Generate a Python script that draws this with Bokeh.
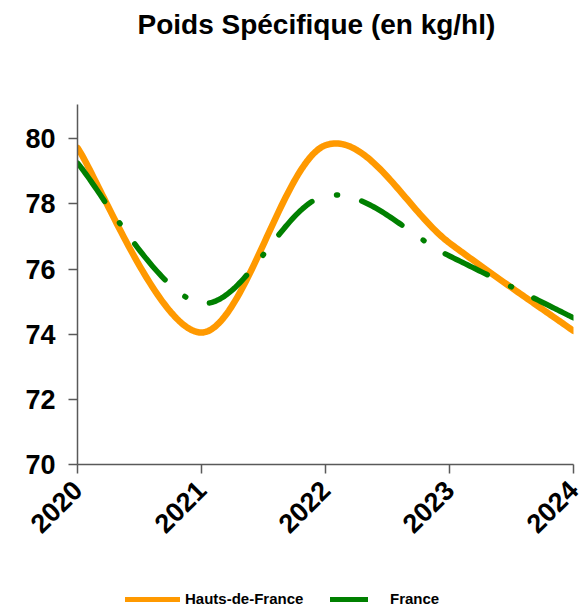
import numpy as np
from bokeh.plotting import figure
from bokeh.layouts import column
from bokeh.models import Range1d, FixedTicker, Legend, LegendItem, Title
from bokeh.embed import file_html
from bokeh.resources import INLINE

years = [2020, 2021, 2022, 2023, 2024]
hauts_de_france = [79.72, 74.05, 79.8, 76.8, 74.1]
france = [79.25, 74.95, 78.25, 76.4, 74.5]
y_ticks = [70, 72, 74, 76, 78, 80]
title_text = "Poids Spécifique (en kg/hl)"
series_names = ["Hauts-de-France", "France"]
colors = ["#FF9900", "#008000"]


def smooth(xs, ys, n=60):
    P = np.column_stack([np.asarray(xs, float), np.asarray(ys, float)])
    ext = np.vstack([P[0], P, P[-1]])
    out = []
    t = np.linspace(0, 1, n)[:, None]
    for i in range(len(P) - 1):
        p0 = ext[i + 1]
        p3 = ext[i + 2]
        c1 = p0 + (ext[i + 2] - ext[i]) / 6.0
        c2 = p3 - (ext[i + 3] - ext[i + 1]) / 6.0
        seg = ((1 - t) ** 3) * p0 + 3 * ((1 - t) ** 2) * t * c1 + 3 * (1 - t) * t ** 2 * c2 + t ** 3 * p3
        out.append(seg if i == 0 else seg[1:])
    s = np.vstack(out)
    return s[:, 0], s[:, 1]


p = figure(width=583, height=575, output_backend="svg", toolbar_location=None,
           x_range=Range1d(2020, 2024), y_range=Range1d(70, 81.05),
           min_border_left=77, min_border_right=10, min_border_top=0, min_border_bottom=111)
p.outline_line_color = None
p.xgrid.visible = False
p.ygrid.visible = False
p.background_fill_color = "white"
p.border_fill_color = "white"

for ax in (p.xaxis[0], p.yaxis[0]):
    ax.axis_line_color = "#595959"
    ax.axis_line_width = 1.5
    ax.major_tick_line_color = "#595959"
    ax.major_tick_line_width = 1.5
    ax.major_tick_out = 9
    ax.major_tick_in = 0
    ax.minor_tick_line_color = None
    ax.major_label_text_font = "Liberation Sans"
    ax.major_label_text_font_style = "bold"
    ax.major_label_text_font_size = "27px"
    ax.major_label_text_color = "black"

p.xaxis.ticker = FixedTicker(ticks=years)
p.xaxis.major_label_orientation = np.pi / 4
p.xaxis.major_label_standoff = 12
p.yaxis.ticker = FixedTicker(ticks=y_ticks)
p.yaxis.major_label_standoff = 13

hx, hy = smooth(years, hauts_de_france)
fx, fy = smooth(years, france)

p.line(hx, hy, line_color=colors[0], line_width=6.5, line_cap="round", line_join="round")
p.line(fx, fy, line_color=colors[1], line_width=5.5, line_cap="round", line_join="round",
       line_dash="47 26 1 25")

# title: spacer panel next to the frame, then the title text outermost
spacer = Title(text=" ", text_font_size="1px", standoff=51)
title = Title(text=title_text, text_font="Liberation Sans", text_font_style="bold",
              text_font_size="28px", text_color="black", align="left", offset=60,
              vertical_align="top", standoff=17)
p.add_layout(spacer, "above")
p.add_layout(title, "above")

# legend strip: a small figure below the chart (frames are aligned with the chart)
lf = figure(width=583, height=34, output_backend="svg", toolbar_location=None,
            x_range=Range1d(0, 1), y_range=Range1d(0, 1),
            min_border=0, x_axis_type=None, y_axis_type=None)
lf.outline_line_color = None
lf.xgrid.visible = False
lf.ygrid.visible = False
r1 = lf.line(years, hauts_de_france, line_color=colors[0], line_width=5, line_cap="round", visible=False)
r2 = lf.line(years, france, line_color=colors[1], line_width=5, line_cap="round", visible=False)

common = dict(orientation="horizontal", border_line_color=None, background_fill_alpha=0,
              label_text_font="Liberation Sans", label_text_font_style="bold",
              label_text_font_size="15px", label_text_color="black",
              inactive_fill_alpha=0,
              padding=0, margin=0, glyph_height=16, label_height=16)
leg1 = Legend(items=[LegendItem(label=series_names[0], renderers=[r1])],
              location=(48, 2), glyph_width=55, label_standoff=5, **common)
leg2 = Legend(items=[LegendItem(label=series_names[1], renderers=[r2])],
              location=(253, 2), glyph_width=38, label_standoff=22, **common)
lf.add_layout(leg1, "center")
lf.add_layout(leg2, "center")

layout = column(p, lf, spacing=0)
open("out.html", "w").write(file_html(layout, INLINE))
